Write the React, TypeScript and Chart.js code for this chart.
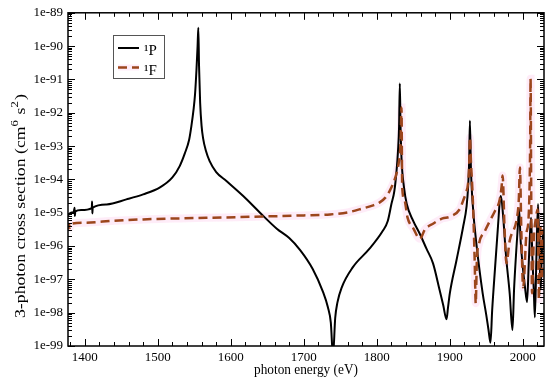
import React, { useEffect, useRef } from "react";
import { Chart, registerables } from "chart.js";

Chart.register(...registerables);

// Axis ranges (x: photon energy in eV, y: log10 of the 3-photon cross section)
const X_MIN = 1377;
const X_MAX = 2029;
const Y_MIN = -99;
const Y_MAX = -89;

const xMajorTicks = [1400, 1500, 1600, 1700, 1800, 1900, 2000];
const xMinorStep = 20;
const yDecades = [-99, -98, -97, -96, -95, -94, -93, -92, -91, -90, -89];

// 1P curve (solid black): energy (eV) and log10(cross section)
const pEnergy = [
  1377, 1381, 1385, 1386, 1386.4, 1387, 1395, 1409.6, 1410, 1410.4, 1410.8, 1430, 1457, 1480, 1503,
  1520, 1530, 1537, 1543, 1546, 1549, 1551, 1553, 1554.5, 1555.5, 1556.5, 1558, 1560, 1562, 1566,
  1571, 1580, 1594, 1617, 1640, 1663, 1680, 1695, 1712, 1726, 1733, 1737, 1740, 1743, 1746,
  1752, 1767, 1790, 1808, 1815, 1820, 1824, 1827, 1829, 1830.5, 1831.5, 1832.5, 1834, 1837, 1841,
  1850, 1859, 1868, 1877, 1886, 1891, 1895.5, 1897.5, 1900, 1909, 1918, 1923, 1925, 1926.5, 1927.5,
  1929, 1931, 1937, 1945, 1950, 1953, 1955.7, 1958, 1962, 1966, 1968.5, 1970, 1973, 1977, 1982,
  1985.8, 1988, 1991, 1993.5, 1994.8, 1997, 2000, 2003, 2005.8, 2008, 2010, 2011.3, 2013, 2015, 2016.5,
  2018.5, 2020.8, 2022.5, 2024.5, 2026, 2028, 2029,
];
const pLogSigma = [
  -95.08, -95.0, -94.97, -94.85, -95.1, -94.96, -94.92, -94.86, -94.66, -95.02, -94.85, -94.75, -94.6, -94.45, -94.24,
  -93.94, -93.6, -93.22, -92.8, -92.4, -91.9, -91.45, -90.7, -90.0, -89.45, -90.6, -91.7, -92.4, -92.76, -93.15,
  -93.45, -93.78, -94.05, -94.5, -95.0, -95.48, -95.76, -96.12, -96.68, -97.36, -97.84, -98.3, -99.3, -98.16, -97.7,
  -97.24, -96.64, -96.08, -95.55, -95.25, -94.74, -94.35, -93.75, -93.15, -92.4, -91.12, -92.4, -93.45, -94.2, -94.74,
  -95.25, -95.64, -96.08, -96.52, -97.32, -97.78, -98.2, -97.85, -97.42, -96.44, -95.45, -94.8, -94.25, -93.45, -92.24,
  -93.75, -94.64, -96.05, -97.42, -98.08, -98.52, -98.9, -97.93, -96.64, -95.4, -94.64, -94.5, -95.1, -96.3, -97.42,
  -98.52, -97.3, -96.14, -95.3, -94.88, -95.84, -96.64, -97.24, -97.68, -96.58, -95.55, -95.15, -96.3, -97.32, -98.14,
  -96.44, -94.74, -95.9, -97.3, -96.2, -95.6, -96.0,
];

// 1F curve (dashed brown): energy (eV) and log10(cross section)
const fEnergy = [
  1377, 1378.5, 1379.5, 1382, 1400, 1440, 1480, 1530, 1594, 1650, 1700, 1736, 1760, 1781, 1795,
  1804, 1812, 1818, 1823, 1827, 1830, 1832.5, 1833.8, 1834.8, 1838, 1842, 1850, 1859, 1866, 1877,
  1890, 1900, 1914, 1918, 1922, 1925, 1926.5, 1927.5, 1929, 1931.5, 1934, 1935.5, 1937, 1940, 1948,
  1955, 1962, 1968, 1971, 1972.3, 1975, 1977.5, 1982, 1992, 1994.5, 1996, 1998, 2000.4, 2005, 2008,
  2010, 2010.6, 2011.5, 2012.6, 2015, 2018, 2020.3, 2022, 2024, 2026, 2028,
];
const fLogSigma = [
  -95.5, -95.35, -95.45, -95.33, -95.3, -95.24, -95.2, -95.17, -95.14, -95.11, -95.08, -95.05, -94.99, -94.87, -94.78,
  -94.69, -94.54, -94.33, -94.09, -93.82, -93.5, -92.9, -91.84, -94.24, -94.63, -95.14, -95.47, -95.78, -95.5, -95.33,
  -95.17, -95.12, -94.88, -94.65, -94.4, -94.12, -93.6, -92.75, -93.5, -94.6, -96.4, -97.72, -96.45, -95.93, -95.55,
  -95.24, -94.94, -94.64, -94.2, -93.88, -95.5, -96.52, -95.84, -95.15, -94.6, -93.64, -95.6, -97.24, -95.62, -95.1,
  -93.0, -90.98, -94.5, -97.42, -95.8, -95.15, -94.9, -97.6, -95.4, -97.0, -95.5,
];

const seriesLabels = ["\u00B9P", "\u00B9F"];
const xTitle = "photon energy (eV)";

const SERIF = '"Liberation Serif", "DejaVu Serif", serif';
const F_COLOR = "#9c461c";
const HALO_COLOR = "rgba(252, 212, 240, 0.45)";

function line(ctx: CanvasRenderingContext2D, x1: number, y1: number, x2: number, y2: number) {
  ctx.beginPath();
  ctx.moveTo(x1, y1);
  ctx.lineTo(x2, y2);
  ctx.stroke();
}

const decorations = {
  id: "decorations",
  afterDraw(chart: any) {
    const ctx: CanvasRenderingContext2D = chart.ctx;
    const { left, right, top, bottom } = chart.chartArea;
    const xs = chart.scales.x;
    const ys = chart.scales.y;
    ctx.save();
    ctx.strokeStyle = "#000";
    ctx.lineWidth = 1;

    // x ticks (bottom and top, inward)
    for (let v = Math.ceil(X_MIN / xMinorStep) * xMinorStep; v <= X_MAX; v += xMinorStep) {
      const px = Math.round(xs.getPixelForValue(v)) + 0.5;
      const len = v % 100 === 0 ? 7 : 4;
      line(ctx, px, bottom, px, bottom - len);
      line(ctx, px, top, px, top + len);
    }
    // y ticks (left and right, inward), logarithmic minors
    for (const d of yDecades) {
      const py = Math.round(ys.getPixelForValue(d)) + 0.5;
      line(ctx, left, py, left + 7, py);
      line(ctx, right, py, right - 7, py);
      if (d < Y_MAX) {
        for (let k = 2; k <= 9; k++) {
          const pm = Math.round(ys.getPixelForValue(d + Math.log10(k))) + 0.5;
          line(ctx, left, pm, left + 4, pm);
          line(ctx, right, pm, right - 4, pm);
        }
      }
    }
    // frame
    ctx.lineWidth = 1.5;
    ctx.strokeRect(left, top, right - left, bottom - top);

    // x title
    ctx.fillStyle = "#000";
    ctx.font = "14px " + SERIF;
    ctx.textAlign = "center";
    ctx.textBaseline = "alphabetic";
    ctx.save();
    ctx.translate((left + right) / 2, 374);
    ctx.scale(0.95, 1);
    ctx.fillText(xTitle, 0, 0);
    ctx.restore();

    // y title with superscripts
    const parts = [
      { t: "3-photon cross section (cm", s: false },
      { t: "6", s: true },
      { t: " s", s: false },
      { t: "2", s: true },
      { t: ")", s: false },
    ];
    const mainFont = "14px " + SERIF;
    const supFont = "10px " + SERIF;
    let total = 0;
    const widths = parts.map((p) => {
      ctx.font = p.s ? supFont : mainFont;
      const w = ctx.measureText(p.t).width + (p.s ? 1 : 0);
      total += w;
      return w;
    });
    const targetLen = 224;
    const stretch = targetLen / total;
    ctx.save();
    ctx.translate(21, 206);
    ctx.rotate(-Math.PI / 2);
    ctx.scale(stretch, 1);
    ctx.textAlign = "left";
    ctx.textBaseline = "middle";
    let cx = -total / 2;
    parts.forEach((p, i) => {
      ctx.font = p.s ? supFont : mainFont;
      ctx.fillText(p.t, cx, p.s ? -6 : 0);
      cx += widths[i];
    });
    ctx.restore();

    // legend
    const bx = 113, by = 35, bw = 51, bh = 43;
    ctx.fillStyle = "#fff";
    ctx.fillRect(bx, by, bw, bh);
    ctx.lineWidth = 1;
    ctx.strokeStyle = "#555";
    ctx.strokeRect(bx + 0.5, by + 0.5, bw, bh);
    const entries = chart.data.datasets.filter((d: any) => d.label);
    const halo = chart.data.datasets.find((d: any) => d.isHalo);
    entries.forEach((d: any, i: number) => {
      const ly = 48 + i * 19.5;
      if (d.hasHalo && halo) {
        ctx.save();
        ctx.strokeStyle = halo.borderColor;
        ctx.lineWidth = 6;
        ctx.beginPath();
        ctx.moveTo(118, ly);
        ctx.lineTo(139, ly);
        ctx.stroke();
        ctx.restore();
      }
      ctx.save();
      ctx.strokeStyle = d.borderColor;
      ctx.lineWidth = d.borderWidth;
      ctx.setLineDash(d.borderDash || []);
      ctx.beginPath();
      ctx.moveTo(118, ly);
      ctx.lineTo(139, ly);
      ctx.stroke();
      ctx.restore();
      ctx.fillStyle = "#000";
      ctx.textAlign = "left";
      ctx.textBaseline = "alphabetic";
      ctx.font = "15px " + SERIF;
      ctx.fillText(d.label, 144, ly + 7);
    });
    ctx.restore();
  },
};

export default function App() {
  const ref = useRef<HTMLCanvasElement | null>(null);

  useEffect(() => {
    document.body.style.margin = "0";
    const canvas = ref.current;
    if (!canvas) return;
    const pData = pEnergy.map((x, i) => ({ x, y: pLogSigma[i] }));
    const fData = fEnergy.map((x, i) => ({ x, y: fLogSigma[i] }));
    const chart = new Chart(canvas, {
      type: "line",
      data: {
        datasets: [
          {
            label: seriesLabels[0],
            data: pData,
            borderColor: "#000",
            borderWidth: 2,
            pointRadius: 0,
            cubicInterpolationMode: "monotone",
            order: 2,
          } as any,
          {
            label: seriesLabels[1],
            data: fData,
            borderColor: F_COLOR,
            borderWidth: 2.5,
            borderDash: [9, 5],
            pointRadius: 0,
            cubicInterpolationMode: "monotone",
            order: 1,
            hasHalo: true,
          } as any,
          {
            label: "",
            data: fData,
            borderColor: HALO_COLOR,
            borderWidth: 8,
            pointRadius: 0,
            cubicInterpolationMode: "monotone",
            order: 3,
            isHalo: true,
          } as any,
        ],
      },
      options: {
        animation: false,
        responsive: false,
        devicePixelRatio: 1,
        layout: { padding: { top: 12, right: 6, left: 0, bottom: 0 } },
        plugins: { legend: { display: false }, tooltip: { enabled: false } },
        scales: {
          x: {
            type: "linear",
            min: X_MIN,
            max: X_MAX,
            grid: { display: false, drawTicks: false },
            border: { display: false },
            afterBuildTicks: (scale: any) => {
              scale.ticks = xMajorTicks.map((v) => ({ value: v }));
            },
            afterFit: (scale: any) => {
              scale.height = 38;
            },
            ticks: {
              padding: 4,
              maxRotation: 0,
              autoSkip: false,
              color: "#000",
              font: { family: SERIF, size: 13 },
              callback: (v: any) => String(v),
            },
          },
          y: {
            type: "linear",
            min: Y_MIN,
            max: Y_MAX,
            grid: { display: false, drawTicks: false },
            border: { display: false },
            afterBuildTicks: (scale: any) => {
              scale.ticks = yDecades.map((v) => ({ value: v }));
            },
            afterFit: (scale: any) => {
              scale.width = 68;
            },
            ticks: {
              padding: 5,
              autoSkip: false,
              color: "#000",
              font: { family: SERIF, size: 13 },
              callback: (v: any) => "1e" + v,
            },
          },
        },
      },
      plugins: [decorations],
    });
    return () => chart.destroy();
  }, []);

  return <canvas ref={ref} width={550} height={384} style={{ display: "block", width: 550, height: 384 }} />;
}
